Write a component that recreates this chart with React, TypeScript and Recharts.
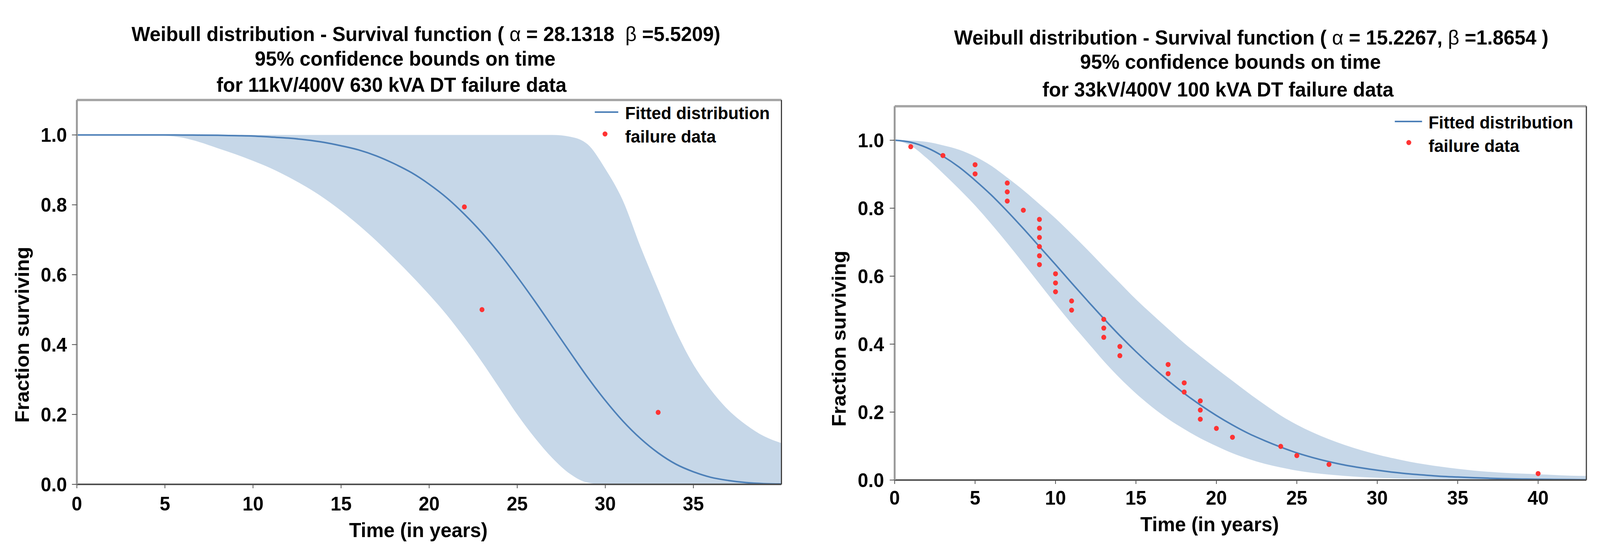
import React from 'react';
import { ComposedChart, Area, Line, Scatter, XAxis, YAxis, ReferenceLine } from 'recharts';

const FONT = '"Liberation Sans", Arial, Helvetica, sans-serif';
const FIT_COLOR = '#4d80b8';
const BAND_COLOR = '#c6d7e8';
const DOT_COLOR = '#ff3333';
const PAGE_W = 4226;
const PAGE_H = 1426;

// 11kV/400V 630 kVA DT (alpha 28.1318, beta 5.5209)
const yearsA = [0, 1, 2, 3, 4, 5, 6, 7, 8, 9, 10, 11, 12, 13, 14, 15, 16, 17, 18, 19, 20,
  21, 22, 23, 24, 25, 26, 27, 28, 29, 30, 31, 32, 33, 34, 35, 36, 37, 38, 39, 40];
const fitA = [1, 1, 1, 1, 1, 1, 0.9998, 0.9995, 0.999, 0.998, 0.997, 0.994, 0.991, 0.986, 0.979,
  0.969, 0.957, 0.94, 0.918, 0.892, 0.859, 0.82, 0.773, 0.72, 0.66, 0.594, 0.524, 0.451, 0.378,
  0.306, 0.24, 0.181, 0.131, 0.09, 0.058, 0.036, 0.02, 0.011, 0.005, 0.002, 0.001];
const lowerA = [1, 1, 1, 1, 1, 0.998, 0.992, 0.979, 0.962, 0.945, 0.926, 0.905, 0.88, 0.852, 0.82,
  0.783, 0.742, 0.697, 0.648, 0.597, 0.543, 0.485, 0.42, 0.35, 0.275, 0.2, 0.133, 0.075, 0.03,
  0.005, 0, 0, 0, 0, 0, 0, 0, 0, 0, 0, 0];
const upperA = [1, 1, 1, 1, 1, 1, 1, 1, 1, 1, 1, 1, 1, 1, 1, 1, 1, 1, 1, 1, 1, 1, 1, 1, 1, 1, 1, 1,
  0.995, 0.973, 0.903, 0.812, 0.68, 0.558, 0.44, 0.343, 0.27, 0.212, 0.17, 0.138, 0.118];
const failTimesA = [22, 23, 33];
const failSurvA = [0.794, 0.5, 0.206];
const xTicksA = [0, 5, 10, 15, 20, 25, 30, 35];

// 33kV/400V 100 kVA DT (alpha 15.2267, beta 1.8654)
const yearsB = [0, 1, 2, 3, 4, 5, 6, 7, 8, 9, 10, 11, 12, 13, 14, 15, 16, 17, 18, 19, 20, 21,
  22, 23, 24, 25, 26, 27, 28, 29, 30, 31, 32, 33, 34, 35, 36, 37, 38, 39, 40, 41, 42, 43];
const fitB = [1, 0.994, 0.978, 0.953, 0.921, 0.882, 0.839, 0.791, 0.74, 0.687, 0.634, 0.58, 0.527,
  0.475, 0.425, 0.378, 0.334, 0.293, 0.255, 0.221, 0.19, 0.162, 0.137, 0.116, 0.097, 0.08, 0.066,
  0.054, 0.044, 0.036, 0.029, 0.023, 0.018, 0.0145, 0.011, 0.009, 0.007, 0.0053, 0.004, 0.003,
  0.0023, 0.0017, 0.0013, 0.001];
const lowerB = [1, 0.984, 0.947, 0.903, 0.857, 0.808, 0.754, 0.697, 0.638, 0.578, 0.518, 0.46,
  0.405, 0.35, 0.3, 0.255, 0.215, 0.18, 0.15, 0.123, 0.1, 0.079, 0.062, 0.048, 0.037, 0.028, 0.021,
  0.016, 0.012, 0.009, 0.007, 0.005, 0.004, 0.003, 0.0025, 0.002, 0.0015, 0.001, 0.001, 0.0007,
  0.0005, 0.0004, 0.0003, 0.0002];
const upperB = [1, 0.999, 0.995, 0.985, 0.972, 0.952, 0.925, 0.89, 0.853, 0.812, 0.77, 0.724,
  0.677, 0.628, 0.58, 0.532, 0.488, 0.445, 0.403, 0.365, 0.328, 0.292, 0.256, 0.222, 0.19, 0.163,
  0.14, 0.12, 0.103, 0.088, 0.075, 0.064, 0.054, 0.046, 0.039, 0.033, 0.028, 0.024, 0.021, 0.019,
  0.017, 0.015, 0.013, 0.012];
const failTimesB = [1, 3, 5, 5, 7, 7, 7, 8, 9, 9, 9, 9, 9, 9, 10, 10, 10, 11, 11, 13, 13, 13, 14, 14,
  17, 17, 18, 18, 19, 19, 19, 20, 21, 24, 25, 27, 40];
const failSurvB = [0.981, 0.955, 0.928, 0.901, 0.874, 0.848, 0.821, 0.794, 0.767, 0.741, 0.714,
  0.687, 0.66, 0.634, 0.607, 0.58, 0.554, 0.527, 0.5, 0.473, 0.447, 0.42, 0.393, 0.366, 0.34, 0.313,
  0.286, 0.259, 0.233, 0.206, 0.179, 0.152, 0.126, 0.099, 0.072, 0.046, 0.019];
const xTicksB = [0, 5, 10, 15, 20, 25, 30, 35, 40];

const yTicks = [0, 0.2, 0.4, 0.6, 0.8, 1.0];

const buildRows = (years: number[], fit: number[], lower: number[], upper: number[]) =>
  years.map((t, i) => ({ t, fit: fit[i], band: [lower[i], upper[i]] }));

const buildPoints = (times: number[], surv: number[]) =>
  times.map((t, i) => ({ t, s: surv[i] }));

const tickStyle = { fill: '#000', fontSize: 50, fontWeight: 700, fontFamily: FONT };

const FailureDot = (props: any) => (
  <circle cx={props.cx} cy={props.cy} r={6.5} fill={DOT_COLOR} />
);

interface PanelProps {
  left: number;
  rows: any[];
  points: any[];
  xMax: number;
  xTicks: number[];
  margin: { top: number; right: number; bottom: number; left: number };
  yAxisWidth: number;
  xAxisHeight: number;
  xTickMargin: number;
  yTickMargin: number;
}

const SurvivalPanel: React.FC<PanelProps> = ({
  left, rows, points, xMax, xTicks, margin, yAxisWidth, xAxisHeight, xTickMargin, yTickMargin,
}) => (
  <div style={{ position: 'absolute', left, top: 0 }}>
    <ComposedChart width={2113} height={1426} data={rows} margin={margin}>
      <XAxis
        type="number"
        dataKey="t"
        domain={[0, xMax]}
        ticks={xTicks}
        allowDataOverflow
        height={xAxisHeight}
        tick={tickStyle}
        tickSize={10}
        tickMargin={xTickMargin}
        axisLine={{ stroke: '#505050', strokeWidth: 4 }}
        tickLine={{ stroke: '#505050', strokeWidth: 2 }}
      />
      <YAxis
        type="number"
        domain={[0, 1.1]}
        ticks={yTicks}
        allowDataOverflow
        width={yAxisWidth}
        tick={tickStyle}
        tickSize={13}
        tickMargin={yTickMargin}
        tickFormatter={(v: number) => v.toFixed(1)}
        axisLine={{ stroke: '#9a9a9a', strokeWidth: 5 }}
        tickLine={{ stroke: '#505050', strokeWidth: 2 }}
      />
      <Area
        type="monotone"
        dataKey="band"
        fill={BAND_COLOR}
        fillOpacity={1}
        stroke="none"
        dot={false}
        activeDot={false}
        isAnimationActive={false}
      />
      <Line
        type="monotone"
        dataKey="fit"
        stroke={FIT_COLOR}
        strokeWidth={4}
        dot={false}
        activeDot={false}
        isAnimationActive={false}
      />
      <Scatter data={points} dataKey="s" shape={<FailureDot />} isAnimationActive={false} />
      <ReferenceLine y={1.1} stroke="#a6a6a6" strokeWidth={6} />
      <ReferenceLine x={xMax} stroke="#3c3c3c" strokeWidth={3} />
    </ComposedChart>
  </div>
);

const txt = { fontFamily: FONT, fontWeight: 700, fill: '#000', whiteSpace: 'pre' as const };

const Overlay = () => (
  <svg
    width={PAGE_W}
    height={PAGE_H}
    style={{ position: 'absolute', left: 0, top: 0, pointerEvents: 'none' }}
  >
    {/* left titles */}
    <text x={1125} y={87} fontSize={52} textAnchor="middle" dominantBaseline="central" style={txt}>
      Weibull distribution - Survival function ( <tspan fontWeight={400}>α</tspan> = 28.1318  <tspan fontWeight={400}>β</tspan> =5.5209)
    </text>
    <text x={1070} y={150} fontSize={52} textAnchor="middle" dominantBaseline="central" style={txt}>
      95% confidence bounds on time
    </text>
    <text x={1034} y={217} fontSize={52} textAnchor="middle" dominantBaseline="central" style={txt}>
      for 11kV/400V 630 kVA DT failure data
    </text>
    {/* right titles */}
    <text x={3305} y={96} fontSize={52} textAnchor="middle" dominantBaseline="central" style={txt}>
      Weibull distribution - Survival function ( <tspan fontWeight={400}>α</tspan> = 15.2267, <tspan fontWeight={400}>β</tspan> =1.8654 )
    </text>
    <text x={3250} y={158} fontSize={52} textAnchor="middle" dominantBaseline="central" style={txt}>
      95% confidence bounds on time
    </text>
    <text x={3217} y={229} fontSize={52} textAnchor="middle" dominantBaseline="central" style={txt}>
      for 33kV/400V 100 kVA DT failure data
    </text>

    {/* axis labels */}
    <text x={1105} y={1357} fontSize={52} textAnchor="middle" dominantBaseline="central" style={txt}>
      Time (in years)
    </text>
    <text x={3195} y={1342} fontSize={52} textAnchor="middle" dominantBaseline="central" style={txt}>
      Time (in years)
    </text>
    <text x={59} y={857} fontSize={52} textAnchor="middle" dominantBaseline="central"
      transform="rotate(-90 59 857)" style={txt}>
      Fraction surviving
    </text>
    <text x={2216} y={867} fontSize={52} textAnchor="middle" dominantBaseline="central"
      transform="rotate(-90 2216 867)" style={txt}>
      Fraction surviving
    </text>

    {/* legends */}
    <line x1={1571} y1={287} x2={1633} y2={287} stroke={FIT_COLOR} strokeWidth={4} />
    <text x={1651} y={289} fontSize={45} dominantBaseline="central" style={txt}>Fitted distribution</text>
    <circle cx={1598} cy={343} r={6.5} fill={DOT_COLOR} />
    <text x={1651} y={349} fontSize={45} dominantBaseline="central" style={txt}>failure data</text>

    <line x1={3684} y1={311} x2={3756} y2={311} stroke={FIT_COLOR} strokeWidth={4} />
    <text x={3773} y={313} fontSize={45} dominantBaseline="central" style={txt}>Fitted distribution</text>
    <circle cx={3721} cy={365} r={6.5} fill={DOT_COLOR} />
    <text x={3773} y={373} fontSize={45} dominantBaseline="central" style={txt}>failure data</text>
  </svg>
);

export default function App() {
  const rowsA = buildRows(yearsA, fitA, lowerA, upperA);
  const rowsB = buildRows(yearsB, fitB, lowerB, upperB);
  const pointsA = buildPoints(failTimesA, failSurvA);
  const pointsB = buildPoints(failTimesB, failSurvB);

  // fit the fixed 4226x1426 drawing into whatever viewport we actually get
  const vw = typeof window !== 'undefined' ? document.documentElement.clientWidth || window.innerWidth : PAGE_W;
  const vh = typeof window !== 'undefined' ? document.documentElement.clientHeight || window.innerHeight : PAGE_H;
  const sx = vw / PAGE_W;
  const sy = vh / PAGE_H;

  return (
    <div
      style={{
        position: 'fixed',
        left: 0,
        top: 0,
        width: PAGE_W,
        height: PAGE_H,
        background: '#fff',
        overflow: 'hidden',
        transform: `scale(${sx}, ${sy})`,
        transformOrigin: '0 0',
      }}
    >
      <SurvivalPanel
        left={0}
        rows={rowsA}
        points={pointsA}
        xMax={40}
        xTicks={xTicksA}
        margin={{ top: 256, right: 49, bottom: 0, left: 0 }}
        yAxisWidth={203}
        xAxisHeight={186}
        xTickMargin={22}
        yTickMargin={13}
      />
      <SurvivalPanel
        left={2113}
        rows={rowsB}
        points={pointsB}
        xMax={43}
        xTicks={xTicksB}
        margin={{ top: 272, right: 36, bottom: 0, left: 0 }}
        yAxisWidth={250}
        xAxisHeight={197}
        xTickMargin={18}
        yTickMargin={15}
      />
      <Overlay />
    </div>
  );
}
